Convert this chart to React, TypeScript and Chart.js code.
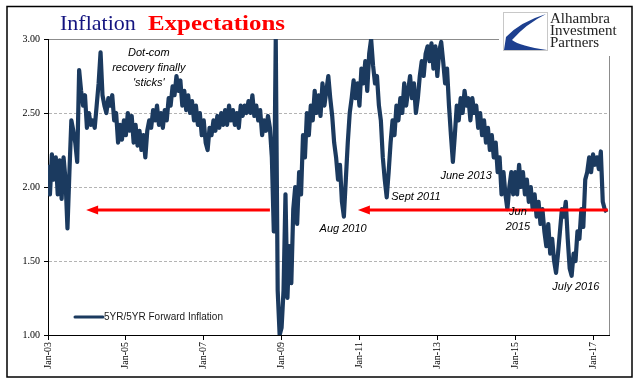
import React, { useEffect, useRef } from "react";
import { Chart, registerables } from "chart.js";

Chart.register(...registerables);

// ---- data ----
const seriesLabel = "5YR/5YR Forward Inflation";
const startYear = 2003;
const stepYears = 0.05; // one observation every 1/20 year
const forwardInflation = [
  // 2003
  2.15, 1.95, 2.22, 2.05, 2.2, 1.95, 2.18, 1.92, 2.2, 2.05, 1.72, 2.1, 2.45, 2.38, 2.3, 2.17, 2.79, 2.65, 2.55, 2.62,
  // 2004
  2.4, 2.5, 2.42, 2.45, 2.4, 2.55, 2.7, 2.91, 2.62, 2.55, 2.5, 2.6, 2.55, 2.62, 2.45, 2.5, 2.3, 2.42, 2.32, 2.45,
  // 2005
  2.35, 2.5, 2.38, 2.48, 2.3, 2.42, 2.28, 2.38, 2.25, 2.35, 2.2, 2.38, 2.45, 2.4, 2.52, 2.45, 2.55, 2.42, 2.5, 2.4,
  // 2006
  2.52, 2.45, 2.6, 2.55, 2.68, 2.62, 2.75, 2.65, 2.72, 2.55, 2.65, 2.52, 2.62, 2.5, 2.58, 2.45, 2.55, 2.42, 2.5, 2.35,
  // 2007
  2.45, 2.3, 2.25, 2.4, 2.35, 2.45, 2.38, 2.48, 2.4, 2.5, 2.42, 2.52, 2.42, 2.55, 2.45, 2.52, 2.42, 2.5, 2.4, 2.55,
  // 2008
  2.48, 2.55, 2.5, 2.58, 2.5, 2.62, 2.48, 2.55, 2.45, 2.52, 2.35, 2.45, 2.38, 2.48, 2.4, 2.2, 1.7, 3.0, 1.3, 1.0,
  // 2009
  1.05, 1.3, 1.95, 1.25, 1.6, 1.35, 1.85, 2.0, 1.75, 2.1, 1.95, 2.35, 2.2, 2.5, 2.35, 2.55, 2.45, 2.65, 2.5, 2.62,
  // 2010
  2.48, 2.7, 2.55, 2.65, 2.75, 2.6, 2.48, 2.3, 2.2, 2.05, 2.15, 1.9, 1.8, 2.05, 2.3, 2.5, 2.6, 2.72, 2.6, 2.7,
  // 2011
  2.55, 2.8, 2.7, 2.85, 2.65, 2.9, 3.0, 2.82, 2.7, 2.75, 2.55, 2.45, 2.2, 2.05, 1.93, 2.1, 2.3, 2.45, 2.35, 2.55,
  // 2012
  2.45, 2.6, 2.5, 2.7, 2.55, 2.65, 2.75, 2.6, 2.7, 2.5, 2.6, 2.75, 2.85, 2.75, 2.9, 2.95, 2.85, 2.97, 2.8, 2.95,
  // 2013
  2.75, 2.92, 2.98, 2.85, 2.7, 2.8, 2.55, 2.35, 2.17, 2.35, 2.55, 2.45, 2.6, 2.5, 2.65, 2.55, 2.6, 2.45, 2.6, 2.5,
  // 2014
  2.55, 2.4, 2.5, 2.35, 2.45, 2.3, 2.4, 2.25, 2.35, 2.2, 2.3, 2.1, 2.2, 1.95, 2.1, 1.95, 1.85, 2.0, 2.1, 1.95,
  // 2015
  2.1, 1.95, 2.15, 2.0, 2.1, 1.95, 2.05, 1.9, 2.0, 1.85, 1.95, 1.8, 1.9, 1.75, 1.85, 1.7, 1.6, 1.75, 1.55, 1.65,
  // 2016
  1.5, 1.42, 1.55, 1.7, 1.85, 1.8, 1.9, 1.65, 1.45, 1.4, 1.55, 1.5, 1.7, 1.65, 1.85, 1.73, 2.05, 2.1, 2.2, 2.1,
  // 2017
  2.22, 2.15, 2.2, 2.12, 2.24, 1.9, 1.85, 1.83,
];
const xMin = 2003;
const xMax = 2017.41;
const tickYears = [2003, 2005, 2007, 2009, 2011, 2013, 2015, 2017];
const tickLabels = ["Jan-03", "Jan-05", "Jan-07", "Jan-09", "Jan-11", "Jan-13", "Jan-15", "Jan-17"];
const yTicks = [1.0, 1.5, 2.0, 2.5, 3.0];
const arrowLevel = 1.845;
const arrowFrom = [2008.7, 2017.38];
const arrowTo = [2003.98, 2010.96];
const noteTexts = [
  ["Dot-com", "recovery finally", "'sticks'"],
  ["Aug 2010"],
  ["Sept 2011"],
  ["June 2013"],
  ["Jun", "2015"],
  ["July 2016"],
];
const noteX = [2005.59, 2010.58, 2012.45, 2013.74, 2015.07, 2016.56];
const noteY = [2.905, 1.716, 1.932, 2.074, 1.831, 1.324];

const LINE_COLOR = "#1b3a5f";

const decorPlugin = {
  id: "decor",
  afterDatasetsDraw(chart: any) {
    const { ctx, chartArea, scales } = chart;
    const xs = scales.x;
    const ys = scales.y;
    ctx.save();
    // right border of plot area
    ctx.strokeStyle = "#8c8c8c";
    ctx.lineWidth = 1;
    ctx.beginPath();
    ctx.moveTo(Math.round(chartArea.right) + 0.5, chartArea.top);
    ctx.lineTo(Math.round(chartArea.right) + 0.5, chartArea.bottom);
    ctx.stroke();

    // red arrows
    const ay = ys.getPixelForValue(arrowLevel);
    ctx.strokeStyle = "#ff0000";
    ctx.fillStyle = "#ff0000";
    ctx.lineWidth = 3;
    for (let i = 0; i < arrowFrom.length; i++) {
      const x1 = xs.getPixelForValue(arrowFrom[i]);
      const x2 = xs.getPixelForValue(arrowTo[i]);
      ctx.beginPath();
      ctx.moveTo(x1, ay);
      ctx.lineTo(x2 + 9, ay);
      ctx.stroke();
      ctx.beginPath();
      ctx.moveTo(x2, ay);
      ctx.lineTo(x2 + 12, ay - 4.5);
      ctx.lineTo(x2 + 12, ay + 4.5);
      ctx.closePath();
      ctx.fill();
    }

    // annotations
    ctx.fillStyle = "#000";
    ctx.font = "italic 11px 'Liberation Sans', Arial, sans-serif";
    ctx.textAlign = "center";
    ctx.textBaseline = "middle";
    for (let i = 0; i < noteTexts.length; i++) {
      const cx = xs.getPixelForValue(noteX[i]);
      const cy = ys.getPixelForValue(noteY[i]);
      noteTexts[i].forEach((t, j) => ctx.fillText(t, cx, cy + j * 15));
    }

    // legend
    const lx = chartArea.left + 27;
    const ly = chartArea.bottom - 18;
    ctx.strokeStyle = LINE_COLOR;
    ctx.lineWidth = 3;
    ctx.lineCap = "round";
    ctx.beginPath();
    ctx.moveTo(lx, ly);
    ctx.lineTo(lx + 28, ly);
    ctx.stroke();
    ctx.fillStyle = "#1a1a1a";
    ctx.font = "10px 'Liberation Sans', Arial, sans-serif";
    ctx.textAlign = "left";
    ctx.fillText(chart.data.datasets[0].label, lx + 29, ly + 0.5);
    ctx.restore();
  },
  afterDraw(chart: any) {
    const { ctx } = chart;
    ctx.save();
    // title
    ctx.textBaseline = "alphabetic";
    ctx.textAlign = "left";
    ctx.fillStyle = "#141480";
    ctx.font = "22px 'Liberation Serif', 'Times New Roman', serif";
    ctx.fillText("Inflation", 60, 30);
    ctx.font = "bold 22px 'Liberation Serif', 'Times New Roman', serif";
    const w = ctx.measureText("Expectations").width;
    ctx.save();
    ctx.translate(148, 30);
    ctx.scale(137 / w, 1);
    ctx.fillStyle = "#ff0000";
    ctx.fillText("Expectations", 0, 0);
    ctx.restore();

    // logo
    ctx.fillStyle = "#ffffff";
    ctx.fillRect(499, 8, 128, 48);
    ctx.strokeStyle = "#c8c8c8";
    ctx.lineWidth = 1;
    ctx.strokeRect(503.5, 12.5, 44, 38);
    ctx.fillStyle = "#1d3f8f";
    ctx.beginPath();
    ctx.moveTo(546, 14);
    ctx.quadraticCurveTo(520, 22, 506, 37);
    ctx.lineTo(504, 50);
    ctx.lineTo(547, 50);
    ctx.quadraticCurveTo(520, 46, 512, 40);
    ctx.quadraticCurveTo(526, 24, 546, 14);
    ctx.closePath();
    ctx.fill();
    ctx.fillStyle = "#222";
    ctx.font = "15px 'Liberation Serif', 'Times New Roman', serif";
    ctx.fillText("Alhambra", 550, 23);
    ctx.fillText("Investment", 550, 35);
    ctx.fillText("Partners", 550, 47);

    // outer frame
    ctx.strokeStyle = "#000";
    ctx.lineWidth = 1.5;
    ctx.strokeRect(7, 6.5, 625, 370.5);
    ctx.restore();
  },
};

export default function App() {
  const ref = useRef<HTMLCanvasElement | null>(null);
  useEffect(() => {
    document.body.style.margin = "0";
    const canvas = ref.current;
    if (!canvas) return;
    const points = forwardInflation.map((v, i) => ({ x: startYear + i * stepYears, y: v }));
    const chart = new Chart(canvas, {
      type: "line",
      data: {
        datasets: [
          {
            label: seriesLabel,
            data: points,
            borderColor: LINE_COLOR,
            backgroundColor: LINE_COLOR,
            borderWidth: 4.2,
            pointRadius: 0,
            tension: 0,
            borderJoinStyle: "round",
            fill: false,
          },
        ],
      },
      options: {
        animation: false,
        responsive: false,
        maintainAspectRatio: false,
        events: [],
        layout: { padding: { left: 8, top: 39, right: 32, bottom: 6 } },
        plugins: {
          legend: { display: false },
          title: { display: false },
          tooltip: { enabled: false },
        },
        scales: {
          x: {
            type: "linear",
            min: xMin,
            max: xMax,
            afterBuildTicks: (axis: any) => {
              axis.ticks = tickYears.map((v) => ({ value: v }));
            },
            afterFit: (axis: any) => {
              axis.height = 40;
            },
            ticks: {
              autoSkip: false,
              maxRotation: 90,
              minRotation: 90,
              padding: 2,
              color: "#000",
              font: { family: "'Liberation Serif', 'Times New Roman', serif", size: 10 },
              callback: (v: any) => tickLabels[tickYears.indexOf(Number(v))] ?? "",
            },
            grid: {
              drawOnChartArea: false,
              drawTicks: true,
              tickLength: 5,
              tickColor: "#000",
            },
            border: { display: true, color: "#000", width: 1 },
          },
          y: {
            type: "linear",
            min: 1,
            max: 3,
            afterBuildTicks: (axis: any) => {
              axis.ticks = yTicks.map((v) => ({ value: v }));
            },
            afterFit: (axis: any) => {
              axis.width = 40;
            },
            ticks: {
              padding: 4,
              color: "#000",
              font: { family: "'Liberation Serif', 'Times New Roman', serif", size: 10 },
              callback: (v: any) => Number(v).toFixed(2),
            },
            grid: {
              drawOnChartArea: true,
              drawTicks: true,
              tickLength: 4,
              tickColor: "#000",
              color: (c: any) => {
                const v = c.tick ? c.tick.value : null;
                if (v === 1) return "rgba(0,0,0,0)";
                if (v === 3) return "#8c8c8c";
                return "#b4b4b4";
              },
              lineWidth: 1,
            },
            border: {
              display: true,
              color: "#000",
              width: 1,
              dash: (c: any) => (c && c.tick && c.tick.value !== 3 ? [3, 2] : []),
            },
          },
        },
      } as any,
      plugins: [decorPlugin],
    });
    return () => chart.destroy();
  }, []);
  return (
    <div style={{ position: "absolute", left: 0, top: 0, width: 641, height: 381, background: "#fff" }}>
      <canvas ref={ref} width={641} height={381} style={{ display: "block", width: 641, height: 381 }} />
    </div>
  );
}
